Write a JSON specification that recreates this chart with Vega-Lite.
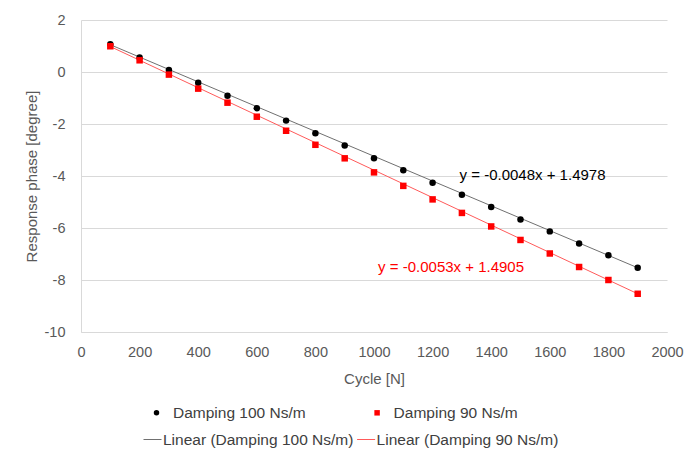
{
  "$schema": "https://vega.github.io/schema/vega-lite/v6.json",
  "autosize": {"type": "none"},
  "width": 586,
  "height": 312,
  "padding": {"left": 81, "top": 20, "right": 20, "bottom": 121},
  "background": "white",
  "config": {
    "font": "Liberation Sans",
    "view": {"stroke": null},
    "axis": {
      "labelFont": "Liberation Sans",
      "titleFont": "Liberation Sans",
      "labelColor": "#595959",
      "titleColor": "#595959",
      "labelFontSize": 14.5,
      "titleFontSize": 15,
      "titleFontWeight": "normal",
      "gridColor": "#d9d9d9",
      "domainColor": "#d9d9d9",
      "ticks": false,
      "labelFlush": false
    },
    "legend": {
      "labelFont": "Liberation Sans",
      "labelFontSize": 15.5,
      "labelColor": "#404040",
      "labelLimit": 400,
      "padding": 0,
      "rowPadding": 10
    }
  },
  "data": {
    "values": [
      {"kind": "point", "key": "Damping 100 Ns/m", "cycle": 100, "phase": 1.07},
      {"kind": "point", "key": "Damping 100 Ns/m", "cycle": 200, "phase": 0.56},
      {"kind": "point", "key": "Damping 100 Ns/m", "cycle": 300, "phase": 0.08},
      {"kind": "point", "key": "Damping 100 Ns/m", "cycle": 400, "phase": -0.41},
      {"kind": "point", "key": "Damping 100 Ns/m", "cycle": 500, "phase": -0.91},
      {"kind": "point", "key": "Damping 100 Ns/m", "cycle": 600, "phase": -1.39},
      {"kind": "point", "key": "Damping 100 Ns/m", "cycle": 700, "phase": -1.87},
      {"kind": "point", "key": "Damping 100 Ns/m", "cycle": 800, "phase": -2.36},
      {"kind": "point", "key": "Damping 100 Ns/m", "cycle": 900, "phase": -2.83},
      {"kind": "point", "key": "Damping 100 Ns/m", "cycle": 1000, "phase": -3.32},
      {"kind": "point", "key": "Damping 100 Ns/m", "cycle": 1100, "phase": -3.78},
      {"kind": "point", "key": "Damping 100 Ns/m", "cycle": 1200, "phase": -4.26},
      {"kind": "point", "key": "Damping 100 Ns/m", "cycle": 1300, "phase": -4.72},
      {"kind": "point", "key": "Damping 100 Ns/m", "cycle": 1400, "phase": -5.19},
      {"kind": "point", "key": "Damping 100 Ns/m", "cycle": 1500, "phase": -5.67},
      {"kind": "point", "key": "Damping 100 Ns/m", "cycle": 1600, "phase": -6.13},
      {"kind": "point", "key": "Damping 100 Ns/m", "cycle": 1700, "phase": -6.6},
      {"kind": "point", "key": "Damping 100 Ns/m", "cycle": 1800, "phase": -7.05},
      {"kind": "point", "key": "Damping 100 Ns/m", "cycle": 1900, "phase": -7.53},
      {"kind": "point", "key": "Damping 90 Ns/m", "cycle": 100, "phase": 0.99},
      {"kind": "point", "key": "Damping 90 Ns/m", "cycle": 200, "phase": 0.45},
      {"kind": "point", "key": "Damping 90 Ns/m", "cycle": 300, "phase": -0.1},
      {"kind": "point", "key": "Damping 90 Ns/m", "cycle": 400, "phase": -0.64},
      {"kind": "point", "key": "Damping 90 Ns/m", "cycle": 500, "phase": -1.18},
      {"kind": "point", "key": "Damping 90 Ns/m", "cycle": 600, "phase": -1.72},
      {"kind": "point", "key": "Damping 90 Ns/m", "cycle": 700, "phase": -2.26},
      {"kind": "point", "key": "Damping 90 Ns/m", "cycle": 800, "phase": -2.8},
      {"kind": "point", "key": "Damping 90 Ns/m", "cycle": 900, "phase": -3.32},
      {"kind": "point", "key": "Damping 90 Ns/m", "cycle": 1000, "phase": -3.86},
      {"kind": "point", "key": "Damping 90 Ns/m", "cycle": 1100, "phase": -4.38},
      {"kind": "point", "key": "Damping 90 Ns/m", "cycle": 1200, "phase": -4.9},
      {"kind": "point", "key": "Damping 90 Ns/m", "cycle": 1300, "phase": -5.42},
      {"kind": "point", "key": "Damping 90 Ns/m", "cycle": 1400, "phase": -5.94},
      {"kind": "point", "key": "Damping 90 Ns/m", "cycle": 1500, "phase": -6.46},
      {"kind": "point", "key": "Damping 90 Ns/m", "cycle": 1600, "phase": -6.98},
      {"kind": "point", "key": "Damping 90 Ns/m", "cycle": 1700, "phase": -7.5},
      {"kind": "point", "key": "Damping 90 Ns/m", "cycle": 1800, "phase": -8.0},
      {"kind": "point", "key": "Damping 90 Ns/m", "cycle": 1900, "phase": -8.53},
      {"kind": "trend", "key": "Linear (Damping 100 Ns/m)", "cycle": 100, "phase": 1.05},
      {"kind": "trend", "key": "Linear (Damping 100 Ns/m)", "cycle": 1900, "phase": -7.53},
      {"kind": "trend", "key": "Linear (Damping 90 Ns/m)", "cycle": 100, "phase": 0.98},
      {"kind": "trend", "key": "Linear (Damping 90 Ns/m)", "cycle": 1900, "phase": -8.53},
      {"kind": "label", "key": "Damping 100 Ns/m", "cycle": 1292, "phase": -4.14, "text": "y = -0.0048x + 1.4978"},
      {"kind": "label", "key": "Damping 90 Ns/m", "cycle": 1014, "phase": -7.69, "text": "y = -0.0053x + 1.4905"}
    ]
  },
  "layer": [
    {
      "transform": [{"filter": "datum.kind === 'trend'"}],
      "mark": {"type": "line", "strokeWidth": 1},
      "encoding": {
        "x": {
          "field": "cycle", "type": "quantitative",
          "scale": {"domain": [0, 2000], "nice": false},
          "axis": {
            "orient": "bottom",
            "title": "Cycle [N]",
            "values": [0, 200, 400, 600, 800, 1000, 1200, 1400, 1600, 1800, 2000],
            "grid": false,
            "labelPadding": 13,
            "titlePadding": 13,
            "labelExpr": "'' + datum.value"
          }
        },
        "y": {
          "field": "phase", "type": "quantitative",
          "scale": {"domain": [-10, 2], "nice": false},
          "axis": {
            "orient": "left",
            "title": "Response phase [degree]",
            "values": [-10, -8, -6, -4, -2, 0, 2],
            "labelPadding": 16,
            "titlePadding": 5,
            "labelExpr": "'' + datum.value"
          }
        },
        "stroke": {
          "field": "key", "type": "nominal",
          "scale": {
            "domain": ["Linear (Damping 100 Ns/m)", "Linear (Damping 90 Ns/m)"],
            "range": ["#707070", "#ff5a5a"]
          },
          "legend": {
            "title": null,
            "orient": "none",
            "legendX": 62,
            "legendY": 410,
            "columns": 2,
            "columnPadding": 0.6,
            "labelOffset": 1,
            "symbolType": "stroke",
            "symbolSize": 324,
            "symbolStrokeWidth": 1
          }
        }
      }
    },
    {
      "transform": [{"filter": "datum.kind === 'point'"}],
      "mark": {"type": "point", "filled": true, "size": 42, "opacity": 1},
      "encoding": {
        "x": {"field": "cycle", "type": "quantitative"},
        "y": {"field": "phase", "type": "quantitative"},
        "fill": {
          "field": "key", "type": "nominal",
          "scale": {"domain": ["Damping 100 Ns/m", "Damping 90 Ns/m"], "range": ["#000000", "#ff0000"]},
          "legend": {
            "title": null,
            "orient": "none",
            "legendX": 67.75,
            "legendY": 384.7,
            "columns": 2,
            "columnPadding": 63.6,
            "labelOffset": 8.75,
            "symbolSize": 30,
            "symbolOpacity": 1
          }
        },
        "shape": {
          "field": "key", "type": "nominal",
          "scale": {"domain": ["Damping 100 Ns/m", "Damping 90 Ns/m"], "range": ["circle", "square"]}
        }
      }
    },
    {
      "transform": [{"filter": "datum.kind === 'label'"}],
      "mark": {"type": "text", "align": "left", "baseline": "alphabetic", "fontSize": 15, "font": "Liberation Sans"},
      "encoding": {
        "x": {"field": "cycle", "type": "quantitative"},
        "y": {"field": "phase", "type": "quantitative"},
        "text": {"field": "text"},
        "fill": {"field": "key", "type": "nominal", "legend": null}
      }
    }
  ]
}
